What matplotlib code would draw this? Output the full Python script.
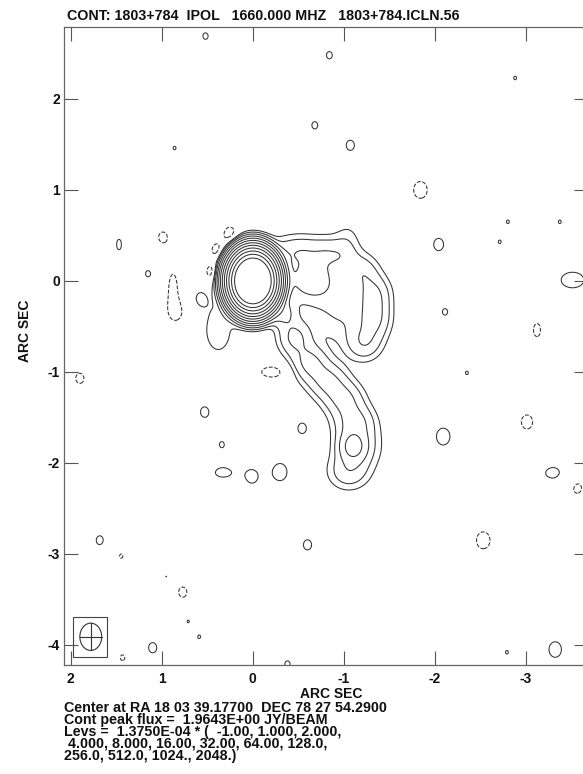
import numpy as np
import matplotlib
matplotlib.use('Agg')
import matplotlib.pyplot as plt
from matplotlib.patches import Ellipse, Rectangle

plt.rcParams['font.family'] = 'Liberation Sans'
plt.rcParams['font.weight'] = 'bold'
plt.rcParams['axes.unicode_minus'] = False

# map header info
title = 'CONT: 1803+784  IPOL   1660.000 MHZ   1803+784.ICLN.56'
ra_txt = '18 03 39.17700'
dec_txt = '78 27 54.2900'
peak_flux = 1.9643          # JY/BEAM
base_lev = 1.3750E-04
lev_mult = [-1.00, 1.000, 2.000, 4.000, 8.000, 16.00, 32.00, 64.00, 128.0,
            256.0, 512.0, 1024., 2048.]

# clean beam FWHM (arcsec)
beam_min = 0.24
beam_maj = 0.30

x_ticks = [2, 1, 0, -1, -2, -3]
y_ticks = [2, 1, 0, -1, -2, -3, -4]

# extended components: offset (arcsec), peak in units of base_lev, sigma x/y (arcsec)
ext_x   = [-0.35, -0.55, -0.78, -0.98, -0.64, -1.20, -1.33, -1.33, -1.22,
           -0.95, -0.33, -0.46, -0.62, -0.82, -1.00, -1.12, -1.10, -1.15, -1.05,
           0.38, -3.51, -3.12, -3.30, 1.47, 0.88, -0.22, 0.33]
ext_y   = [0.32, 0.33, 0.32, 0.28, 0.00, 0.10, -0.15, -0.42, -0.68,
           -0.35, -0.35, -0.62, -0.90, -1.10, -1.30, -1.55, -1.82, -1.82, -2.10,
           -0.54, 0.01, -0.54, -2.11, 0.40, -0.04, -1.00, -2.11]
ext_amp = [2.2, 2.5, 2.5, 2.5, 5.5, 3, 4, 4, 3.5,
           2, 4.5, 4.5, 4.5, 4.3, 4.3, 4.3, 8, 3, 3,
           1.6, 1.35, -1.12, 1.2, 1.1, -1.2, -1.3, 1.2]
ext_sx  = [0.12, 0.12, 0.12, 0.12, 0.20, 0.12, 0.12, 0.12, 0.13,
           0.22, 0.10, 0.12, 0.13, 0.14, 0.14, 0.14, 0.09, 0.17, 0.15,
           0.13, 0.16, 0.08, 0.14, 0.06, 0.07, 0.17, 0.12]
ext_sy  = [0.12, 0.12, 0.12, 0.12, 0.16, 0.13, 0.14, 0.14, 0.13,
           0.22, 0.10, 0.13, 0.13, 0.13, 0.13, 0.13, 0.10, 0.17, 0.13,
           0.22, 0.11, 0.15, 0.10, 0.13, 0.20, 0.08, 0.07]

# residual peaks: offset (arcsec), peak in units of base_lev, width relative to beam
res_x = [0.52, -0.84, -2.88, -0.68, -1.07, 0.86, -1.84, -2.04, -2.71, -2.80,
         -3.37, -2.11, -2.35, -3.01, -2.09, -3.56, -2.53, -3.32, -2.79, 0.99,
         1.15, 0.84, 0.58, 1.90, 1.38, 1.33, 0.25, 0.40, 0.45, 0.53,
         -0.54, 0.34, -1.04, -0.60, 1.68, 1.45, 0.95, 0.77, 1.10, 1.43,
         0.71, 0.59, -0.38, 0.01, -0.30]
res_y = [2.69, 2.48, 2.23, 1.71, 1.49, 1.46, 1.00, 0.40, 0.43, 0.65,
         0.65, -0.34, -1.01, -1.55, -1.71, -2.27, -2.85, -4.05, -4.08, 0.48,
         0.08, -0.35, -0.19, -1.07, -1.05, -0.97, 0.51, 0.34, 0.10, -1.44,
         -1.62, -1.80, 0.48, -2.90, -2.85, -3.02, -3.25, -3.42, -4.03, -4.14,
         -3.74, -3.91, -4.21, -2.15, -2.10]
res_amp = [1.04, 1.05, 1.1, 1.05, 1.1, 1.1, -1.3, 1.15, 1.1, 1.1,
           1.1, 1.04, 1.1, -1.2, 1.3, -1.15, -1.3, 1.25, 1.1, -1.1,
           1.04, -1.05, 1.1, -1.1, -1.12, 1.03, -1.45, -1.35, -1.6, 1.1,
           1.1, 1.03, 1.04, 1.1, 1.08, -1.06, 1.1, -1.1, 1.1, -1.05,
           1.1, 1.1, 1.04, 1.15, 1.3]
res_w = [1.0, 1.0, 0.35, 1.0, 1.0, 0.35, 1.0, 1.0, 0.35, 0.35,
         0.35, 1.0, 0.35, 1.0, 1.0, 1.0, 1.0, 1.0, 0.35, 1.0,
         1.0, 1.0, 0.8, 1.0, 1.0, 0.6, 0.75, 0.6, 0.6, 1.0,
         1.0, 1.0, 1.0, 1.0, 1.0, 0.8, 0.35, 1.0, 1.0, 0.8,
         0.35, 0.35, 1.0, 1.0, 1.0]


def aips_num(v):
    # AIPS style: four significant characters
    if v < 0:
        return '-%.2f' % abs(v)
    nd = len(str(int(v)))
    dec = max(4 - nd, 0)
    s = '%.*f' % (dec, v)
    return s + '.' if dec == 0 else s


def gauss(X, Y, x0, y0, amp, sx, sy):
    return amp * np.exp(-0.5 * ((X - x0) / sx) ** 2 - 0.5 * ((Y - y0) / sy) ** 2)


bsx = beam_min / 2.3548
bsy = beam_maj / 2.3548

gx = np.linspace(-3.75, 2.12, 900)
gy = np.linspace(-4.26, 2.82, 1080)
X, Y = np.meshgrid(gx, gy)

img = gauss(X, Y, 0.0, 0.0, peak_flux, bsx, bsy)
for x0, y0, a, sx, sy in zip(ext_x, ext_y, ext_amp, ext_sx, ext_sy):
    img += gauss(X, Y, x0, y0, a * base_lev, sx, sy)
for x0, y0, a, w in zip(res_x, res_y, res_amp, res_w):
    img += gauss(X, Y, x0, y0, a * base_lev, w * bsx, w * bsy)

levs = np.array(lev_mult) * base_lev

fig = plt.figure(figsize=(5.83, 7.74), dpi=100)
ax = fig.add_axes([64/583, 1 - 665/774, 524/583, 638/774])

ax.contour(X, Y, img, levels=levs, colors='#333333', linewidths=0.75,
           negative_linestyles='dashed')

# beam in the corner
bx, by = 1.78, -3.91
ax.add_patch(Rectangle((1.60, -4.13), 0.38, 0.44, fill=False, ec='#444444', lw=0.8))
ax.add_patch(Ellipse((bx, by), beam_min, beam_maj, fill=False, ec='#333333', lw=0.8))
ax.plot([bx - beam_min/2, bx + beam_min/2], [by, by], color='#333333', lw=0.8)
ax.plot([bx, bx], [by - beam_maj/2, by + beam_maj/2], color='#333333', lw=0.8)

ax.set_xlim(2.074, -3.68)
ax.set_ylim(-4.22, 2.79)
ax.set_xticks(x_ticks)
ax.set_yticks(y_ticks)
ax.tick_params(direction='in', length=10, width=0.8, color='#555555',
               top=True, right=True, labelsize=10, labelcolor='#111111')
ax.tick_params(axis='x', pad=5)
ax.tick_params(axis='y', pad=3)
for sp in ax.spines.values():
    sp.set_color('#666666')
    sp.set_linewidth(0.9)

fig.text(67/583, 1 - 20.5/774, title, fontsize=10.3, color='#111111', va='baseline')
fig.text(331/583, 1 - 698/774, 'ARC SEC', fontsize=10, ha='center', va='baseline', color='#111111')
fig.text(25/583, 1 - 331/774, 'ARC SEC', fontsize=10, rotation=90, ha='center', va='center', color='#111111')

lev_str = [aips_num(v) for v in lev_mult]
foot = ['Center at RA %s  DEC %s' % (ra_txt, dec_txt),
        'Cont peak flux =  %.4E JY/BEAM' % peak_flux,
        'Levs =  %.4E * (  %s,' % (base_lev, ', '.join(lev_str[:3])),
        ' %s,' % ', '.join(lev_str[3:9]),
        '%s)' % ', '.join(lev_str[9:])]
fig.text(64/583, 1 - 701/774, '\n'.join(foot), fontsize=10.3, va='top',
         linespacing=0.81, color='#111111')

fig.savefig('out.png', dpi=100)
